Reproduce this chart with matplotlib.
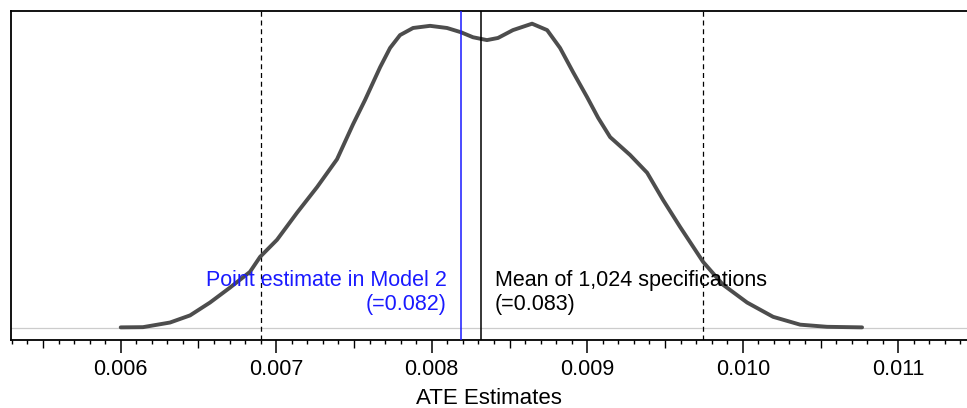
import numpy as np
import matplotlib
matplotlib.use("Agg")
import matplotlib.pyplot as plt
from matplotlib.ticker import MultipleLocator, FixedLocator, FormatStrFormatter

plt.rcParams['font.family'] = ['Liberation Sans', 'DejaVu Sans']

# Kernel density of ATE estimates across specifications
ate_grid = [0.00600, 0.006143, 0.006317, 0.006446, 0.006574, 0.006703, 0.006831,
            0.006896, 0.007005, 0.007134, 0.007263, 0.007391, 0.007494, 0.007571,
            0.007668, 0.007732, 0.007796, 0.007880, 0.007989, 0.008098, 0.008188,
            0.008265, 0.008355, 0.008426, 0.008522, 0.008645, 0.008742, 0.008825,
            0.008909, 0.008999, 0.009070, 0.009147, 0.009275, 0.009385, 0.009487,
            0.009597, 0.009745, 0.009873, 0.010028, 0.010195, 0.010369, 0.010542,
            0.010767]
density = [0.2, 0.5, 7, 17, 35, 56, 78, 99, 123, 161, 197, 236, 285, 319,
           365, 392, 410, 420, 423, 420, 414, 407, 403, 406, 417, 426, 417, 392,
           358, 323, 294, 267, 242, 217, 179, 141, 92, 60, 35, 15, 4, 1, 0.2]

ci_bounds = [0.0069, 0.009745]
point_estimate = 0.008186
mean_estimate = 0.008316
point_label = "Point estimate in Model 2\n(=0.082)"
mean_label = "Mean of 1,024 specifications\n(=0.083)"

fig = plt.figure(figsize=(9.67, 4.08), dpi=100)
ax = fig.add_axes([10.5 / 967, 68.5 / 408, 956.5 / 967, 328.5 / 408])

ax.axhline(0, color='#cccccc', lw=0.9, zorder=1)
ax.plot(ate_grid, density, color='#4d4d4d', lw=2.8, solid_capstyle='round',
        solid_joinstyle='round', zorder=3)

for b in ci_bounds:
    ax.axvline(b, color='black', lw=0.9, ls=(0, (4, 3)), zorder=2)
ax.axvline(point_estimate, color='#1a1aff', lw=1.1, zorder=4)
ax.axvline(mean_estimate, color='black', lw=1.1, zorder=4)

ax.set_xlim(0.0052913, 0.0114418)
ax.set_ylim(-16.8, 443.8)

ax.text(point_estimate - 0.00009, 49, point_label, color='#1a1aff', ha='right',
        va='center', fontsize=15.5, linespacing=1.2)
ax.text(mean_estimate + 0.00009, 49, mean_label, color='black', ha='left',
        va='center', fontsize=15.5, linespacing=1.2)

ax.set_yticks([])
ax.spines['right'].set_visible(False)
for s in ['left', 'top', 'bottom']:
    ax.spines[s].set_linewidth(1.3)

ax.xaxis.set_major_locator(MultipleLocator(0.001))
ax.xaxis.set_major_formatter(FormatStrFormatter('%.3f'))
minor = [t for t in np.round(np.arange(0.0052, 0.01146, 0.0001), 5)
         if abs(t * 2000 - round(t * 2000)) > 1e-6]
ax.xaxis.set_minor_locator(FixedLocator(minor))
ax.tick_params(axis='x', which='major', length=9, width=1.1, labelsize=15.5, pad=5)
ax.tick_params(axis='x', which='minor', length=3, width=1.0)

half = [0.0055, 0.0065, 0.0075, 0.0085, 0.0095, 0.0105]
sec = ax.secondary_xaxis('bottom')
sec.set_xticks(half)
sec.tick_params(length=5.5, width=1.0, labelbottom=False)
sec.spines['bottom'].set_visible(False)

ax.set_xlabel("ATE Estimates", fontsize=16, labelpad=6)

fig.savefig("out.png", dpi=100)
